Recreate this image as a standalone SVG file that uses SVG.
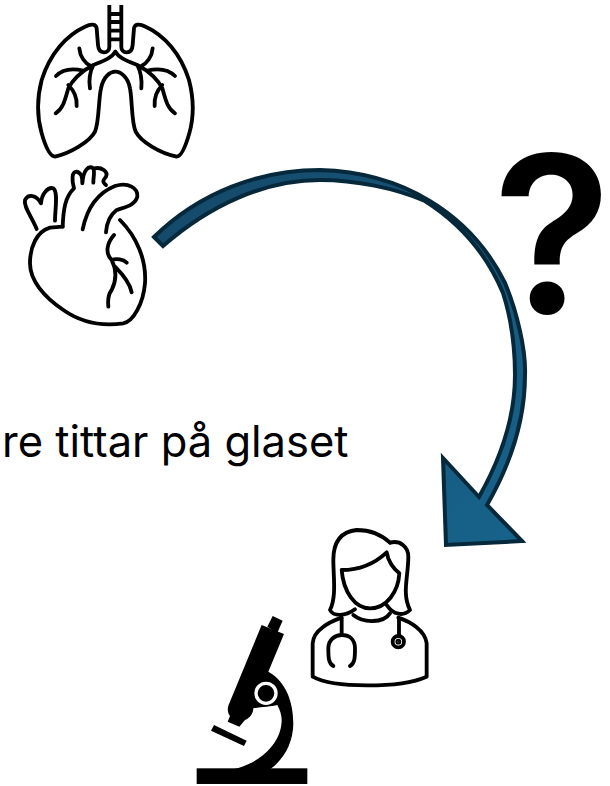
<svg xmlns="http://www.w3.org/2000/svg" width="610" height="786" viewBox="0 0 610 786">
<style>
.ln{fill:none;stroke:#000;stroke-width:11.5;stroke-linecap:round;stroke-linejoin:round}
</style>
<defs><linearGradient id="ar" gradientUnits="userSpaceOnUse" x1="150" y1="240" x2="500" y2="540"><stop offset="0" stop-color="#154a6b"/><stop offset="1" stop-color="#17628a"/></linearGradient></defs>
<rect width="610" height="786" fill="#fff"/>
<g id="lungs" transform="scale(.3333)" class="ln">
<path stroke-linecap="butt" d="M328,15V140C328,150 322,157 312,157C300,157 295,150 294,135L290,85C288,72 275,70 255,80C200,105 150,160 125,240C112,290 108,340 125,400C135,435 148,470 165,470C210,460 270,425 285,395C298,365 295,300 303,265C310,230 330,215 346,215C365,215 385,235 390,265C397,300 394,365 407,395C422,425 480,460 530,470C545,470 558,435 568,400C585,340 580,290 567,240C542,160 492,105 437,80C417,70 404,72 402,85L398,135C397,150 392,157 380,157C370,157 364,150 364,140V15"/>
<path stroke-linecap="butt" d="M328,42H364M328,66H364M328,92H364M328,118H364"/>
<path d="M346,155C335,175 310,183 280,195C240,215 215,245 205,265C195,300 190,325 167,340M238,145C240,170 255,190 272,198M168,228C190,205 220,205 250,212M270,265C265,235 270,215 280,195M205,255C220,270 232,290 230,318"/>
<path d="M346,155C357,175 382,183 412,195C452,215 477,245 487,265C497,300 502,325 525,340M458,145C456,170 441,190 424,198M525,228C502,205 472,205 442,212M424,265C427,235 422,215 412,195M487,255C472,270 462,290 464,318"/>
</g>
<g id="heart" transform="translate(0,160) scale(.3333)" class="ln">
<path d="M188,200L150,203C110,215 90,260 90,310C90,360 130,410 190,450C240,485 300,500 370,490C400,485 430,430 435,370C440,300 410,230 360,180"/>
<path d="M110,207C95,170 70,140 75,120C85,100 110,105 123,130C125,100 145,80 160,85C175,95 165,150 165,182"/>
<path d="M188,200C190,150 195,110 222,85C215,60 215,35 230,35C245,40 247,50 247,70C250,30 265,15 280,25C285,35 280,50 280,68M283,25C305,20 325,35 318,50C310,60 305,65 318,75"/>
<path d="M248,208C260,150 290,100 345,78C385,65 415,85 412,110C405,135 380,140 350,150C330,165 320,190 318,217"/>
<path d="M342,225C320,250 315,280 335,300C350,330 350,360 335,390C320,410 325,430 325,440M335,300C350,295 370,298 380,308M345,320C370,345 390,370 395,397"/>
</g>
<g id="doctor" transform="translate(300,520) scale(.3333)" class="ln">
<path d="M270,68C240,40 200,30 170,30C120,35 100,70 100,120C100,170 110,230 90,270C100,290 135,290 165,268"/>
<path d="M125,150C180,150 225,130 260,97C265,125 280,145 298,160C295,215 260,265 210,265C165,265 130,215 125,150Z"/>
<path d="M270,68C300,60 325,80 325,110C325,170 305,220 330,270C310,290 280,285 260,255"/>
<path d="M125,293C90,305 40,330 38,370V470C100,505 300,505 380,470V370C375,330 330,305 295,293M160,285C190,310 250,310 270,280"/>
<path d="M125,295V345M100,438C85,430 85,410 85,385C85,360 105,345 125,345C150,345 165,360 165,385C165,410 165,430 150,438M297,295V346"/>
<circle cx="295" cy="365" r="17"/>
<circle cx="295" cy="365" r="3" fill="#000"/>
</g>
<g id="microscope" transform="translate(190,610) scale(.3333)">
<rect x="20" y="475" width="332" height="47"/>
<path d="M248,18L278,32L262,68L232,50Z"/>
<path d="M215,45L282,72L235,185C290,215 310,280 310,340C310,400 280,450 240,478H130C210,460 275,400 275,330C275,315 270,300 262,285C245,290 215,290 190,295C190,310 180,325 165,330L148,350L113,335L120,318C110,305 113,290 118,280Z"/>
<path d="M72,345L170,392L162,408L63,362Z"/>
<circle cx="228" cy="250" r="30" fill="none" stroke="#fff" stroke-width="10"/>
</g>
<g id="question"><text x="493" y="313" font-family="Inter,sans-serif" font-size="218" font-weight="600">?</text></g>
<g id="label"><text x="2" y="457" font-family="Inter,sans-serif" font-size="43.5">re tittar på glaset</text></g>
<g id="connectors">
<path fill="url(#ar)" stroke="#06283b" stroke-width="4" stroke-linejoin="miter" d="M154,237C200,192 260,170 320,170C400,172 470,212 505,283C517,312 526,350 525,375C525,420 510,465 487,505L522,541L446,545L443,458L479,497C500,460 515,420 515,375C515,345 511,318 503,293C485,250 455,220 425,201C395,188 355,180 320,180C265,180 210,205 163,246Z"/>
</g>
</svg>
